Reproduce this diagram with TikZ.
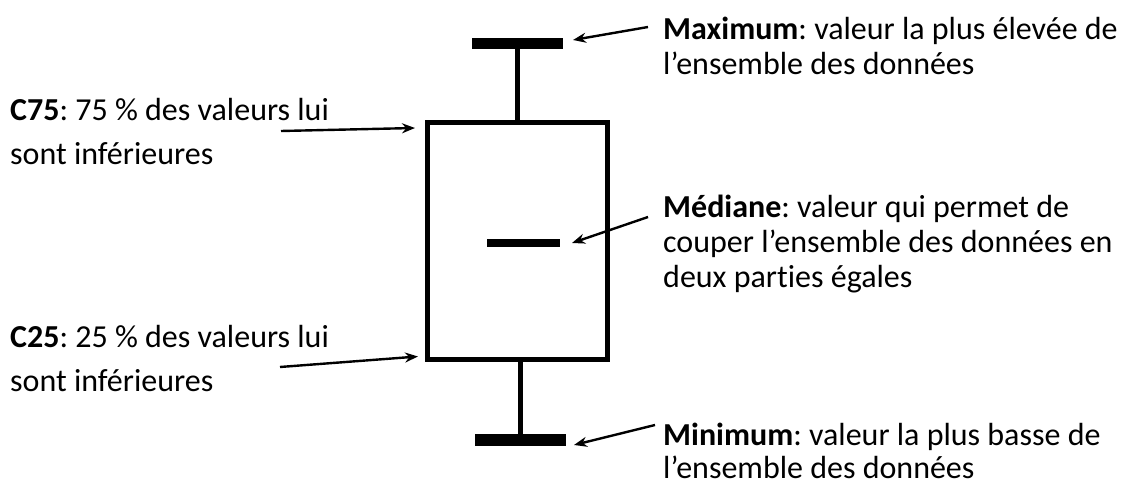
\documentclass[tikz,border=0pt]{standalone}
\usepackage{fontspec}
\setmainfont{Carlito}[Ligatures=NoCommon]
\frenchspacing
\usetikzlibrary{arrows.meta}
\begin{document}
\begin{tikzpicture}[x=1pt,y=-1pt,
  lbl/.style={anchor=base west,inner sep=0pt,align=left,font=\fontsize{32}{35}\selectfont},
  lbls/.style={lbl,font=\fontsize{32}{33}\selectfont},
  lbll/.style={lbl,font=\fontsize{32}{44}\selectfont},
  bar/.style={fill=black,draw=none,inner sep=0pt,outer sep=0pt},
  ptr/.style={line width=2.4pt,-{Stealth[length=13pt,width=10pt]}},
  stem/.style={line width=4.6pt}]
\useasboundingbox (0,0) rectangle (1127,481);
% box
\node[draw,line width=5pt,inner sep=0pt,minimum width=180pt,minimum height=236.5pt] (box) at (517.5,240.75) {};
\node[bar,minimum width=91pt,minimum height=11pt] (maxcap) at (517.5,43.5) {};
\node[bar,minimum width=91pt,minimum height=12pt] (mincap) at (520.5,440) {};
\node[bar,minimum width=73pt,minimum height=8pt] (med) at (523.5,243) {};
\draw[stem] (maxcap.center) -- (maxcap.center |- box.north);
\draw[stem] (box.south -| mincap.center) -- (mincap.center);
% labels (anchor = baseline of last line)
\node[lbl] (tmax) at (663,75) {\textbf{Maximum}: valeur la plus élevée de\\l’ensemble des données};
\node[lbl] (tmed) at (663,287) {\textbf{Médiane}: valeur qui permet de\\couper l’ensemble des données en\\deux parties égales};
\node[lbls] (tmin) at (663,478) {\textbf{Minimum}: valeur la plus basse de\\l’ensemble des données};
\node[lbll] (tc75) at (10,165) {\textbf{C75}: 75 \% des valeurs lui\\sont inférieures};
\node[lbll] (tc25) at (10,391) {\textbf{C25}: 25 \% des valeurs lui\\sont inférieures};
% arrow tails
\coordinate (amax) at (648,27);
\coordinate (amed) at (648,217);
\coordinate (amin) at (655,425);
\coordinate (a75) at (281,131);
\coordinate (a25) at (280,367);
\draw[ptr] (amax) -- ([shift={(10,-3.5)}]maxcap.east);
\draw[ptr] (amed) -- ([shift={(12,0)}]med.east);
\draw[ptr] (amin) -- ([shift={(8,5)}]mincap.east);
\draw[ptr] (a75) -- ([shift={(-10,8)}]box.north west);
\draw[ptr] (a25) -- ([shift={(-7,-5)}]box.south west);
\end{tikzpicture}
\end{document}
